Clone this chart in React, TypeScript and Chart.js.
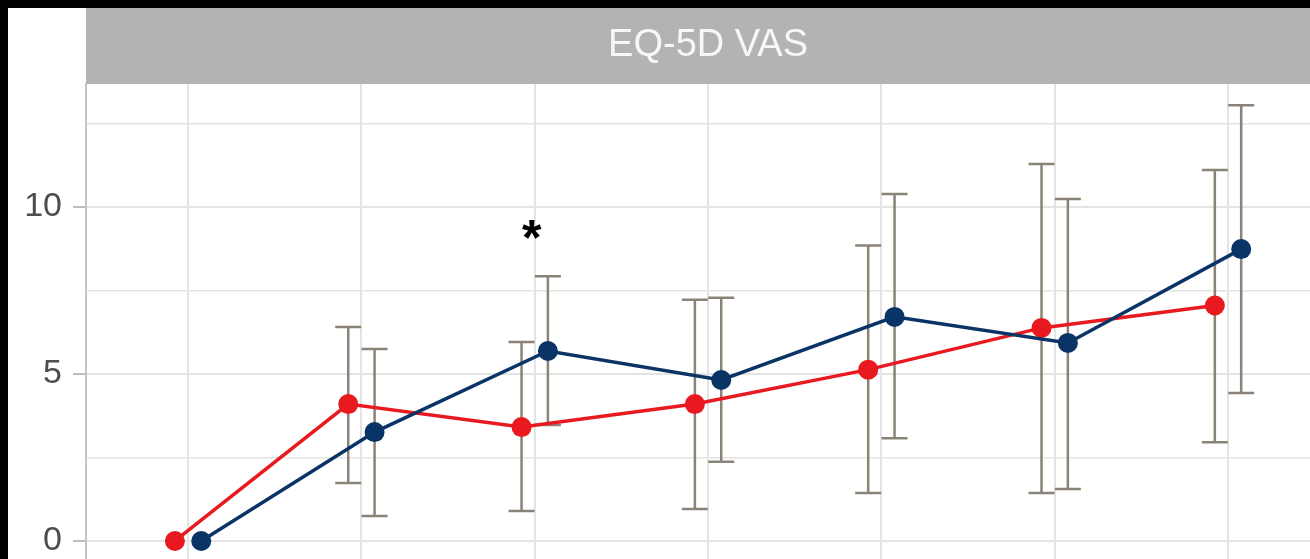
import React, { useEffect, useRef } from "react";
import { Chart, registerables } from "chart.js";

Chart.register(...registerables);

const panelTitle = "EQ-5D VAS";
const categories = [1, 2, 3, 4, 5, 6, 7];
const yTicks = [0, 2.5, 5, 7.5, 10, 12.5];
const yLabelled = [0, 5, 10];

const redMean = [0, 4.1, 3.41, 4.1, 5.13, 6.38, 7.05];
const redHi = [null, 6.41, 5.96, 7.22, 8.85, 11.29, 11.11];
const redLo = [null, 1.74, 0.9, 0.96, 1.44, 1.44, 2.96];

const blueMean = [0, 3.26, 5.69, 4.82, 6.71, 5.93, 8.74];
const blueHi = [null, 5.75, 7.93, 7.28, 10.39, 10.24, 13.05];
const blueLo = [null, 0.75, 3.47, 2.37, 3.08, 1.56, 4.43];

const significance = [{ category: 3, label: "*", y: 9.25 }];

const RED = "#E8191F";
const BLUE = "#0B3466";
const ERR = "#8A8377";
const GRID = "#E4E4E4";
const DODGE = 0.076;
const X_MIN = 0.411;
const X_MAX = 7.473;
const Y_MIN = -0.539;
const Y_MAX = 13.683;
const W = 1310;
const H = 559;
const MARGIN = 8;

export default function App() {
  const ref = useRef<HTMLCanvasElement | null>(null);

  useEffect(() => {
    document.body.style.background = "#000";
    const canvas = ref.current;
    if (!canvas) return;

    const framePlugin = {
      id: "frame",
      beforeDraw(chart: any) {
        const ctx = chart.ctx;
        ctx.save();
        ctx.fillStyle = "#000";
        ctx.fillRect(0, 0, chart.width, chart.height);
        ctx.fillStyle = "#fff";
        ctx.fillRect(MARGIN, MARGIN, chart.width - MARGIN, chart.height - MARGIN);
        ctx.restore();
      },
      beforeDatasetsDraw(chart: any) {
        const ctx = chart.ctx;
        const xs = chart.scales.x;
        const ys = chart.scales.y;
        ctx.save();
        ctx.strokeStyle = ERR;
        ctx.lineWidth = 2.5;
        chart.data.datasets.forEach((ds: any) => {
          ds.data.forEach((pt: any, i: number) => {
            const hi = ds.errHi[i];
            const lo = ds.errLo[i];
            if (hi == null || lo == null) return;
            const px = xs.getPixelForValue(pt.x);
            const pHi = ys.getPixelForValue(hi);
            const pLo = ys.getPixelForValue(lo);
            ctx.beginPath();
            ctx.moveTo(px, pHi);
            ctx.lineTo(px, pLo);
            ctx.moveTo(px - 13, pHi);
            ctx.lineTo(px + 13, pHi);
            ctx.moveTo(px - 13, pLo);
            ctx.lineTo(px + 13, pLo);
            ctx.stroke();
          });
        });
        ctx.restore();
      },
      afterDatasetsDraw(chart: any) {
        const ctx = chart.ctx;
        const xs = chart.scales.x;
        const ys = chart.scales.y;
        ctx.save();
        ctx.fillStyle = "#000";
        ctx.font = "bold 50px 'Liberation Sans', Arial, sans-serif";
        ctx.textAlign = "center";
        ctx.textBaseline = "middle";
        significance.forEach((s) => {
          const px = xs.getPixelForValue(s.category) - 3;
          const py = ys.getPixelForValue(s.y) + 9;
          ctx.fillText(s.label, px, py);
        });
        ctx.restore();
      },
      afterDraw(chart: any) {
        const ctx = chart.ctx;
        const area = chart.chartArea;
        const xs = chart.scales.x;
        ctx.save();
        ctx.fillStyle = "#B3B3B3";
        ctx.fillRect(area.left, MARGIN, chart.width - area.left, area.top - MARGIN);
        ctx.fillStyle = "#F7F7F7";
        ctx.font = "38px 'Liberation Sans', Arial, sans-serif";
        ctx.textAlign = "center";
        ctx.textBaseline = "middle";
        const cx = xs.getPixelForValue((categories[0] + categories[categories.length - 1]) / 2);
        ctx.fillText(panelTitle, cx, (area.top + MARGIN) / 2);
        ctx.restore();
      },
    };

    const mk = (mean: number[], hi: (number | null)[], lo: (number | null)[], offset: number, color: string) => ({
      data: categories.map((c, i) => ({ x: c + offset, y: mean[i] })),
      errHi: hi,
      errLo: lo,
      borderColor: color,
      backgroundColor: color,
      pointBackgroundColor: color,
      pointBorderColor: color,
      pointRadius: 10,
      pointBorderWidth: 0,
      borderWidth: 3.5,
      tension: 0,
      showLine: true,
    });

    const chart = new Chart(canvas, {
      type: "scatter",
      data: {
        datasets: [
          mk(blueMean, blueHi, blueLo, DODGE, BLUE) as any,
          mk(redMean, redHi, redLo, -DODGE, RED) as any,
        ],
      },
      options: {
        responsive: false,
        devicePixelRatio: 1,
        animation: false,
        events: [],
        layout: { autoPadding: false, padding: { top: MARGIN + 76, left: MARGIN, right: 0, bottom: 0 } },
        plugins: { legend: { display: false }, tooltip: { enabled: false } },
        scales: {
          x: {
            type: "linear",
            min: X_MIN,
            max: X_MAX,
            afterBuildTicks: (s: any) => {
              s.ticks = categories.map((v) => ({ value: v }));
            },
            afterFit: (s: any) => {
              s.height = 0;
              s.paddingLeft = 0;
              s.paddingRight = 0;
            },
            ticks: { display: false },
            grid: { color: GRID, lineWidth: 2, drawTicks: false },
            border: { display: false },
          },
          y: {
            type: "linear",
            min: Y_MIN,
            max: Y_MAX,
            afterBuildTicks: (s: any) => {
              s.ticks = yTicks.map((v) => ({ value: v }));
            },
            afterFit: (s: any) => {
              s.width = 78;
              s.paddingTop = 0;
              s.paddingBottom = 0;
            },
            ticks: {
              padding: 11,
              color: "#4D4D4D",
              font: { family: "'Liberation Sans', Arial, sans-serif", size: 34 },
              callback: (v: any) => (yLabelled.includes(Number(v)) ? String(v) : ""),
            },
            grid: {
              color: GRID,
              lineWidth: (c: any) => (c.tick && yLabelled.includes(c.tick.value) ? 2 : 1.6),
              tickLength: 13,
              tickWidth: 2,
              tickColor: (c: any) => (c.tick && yLabelled.includes(c.tick.value) ? "#BDBDBD" : "rgba(0,0,0,0)"),
            },
            border: { display: true, color: "#C4C4C4", width: 2 },
          },
        },
      },
      plugins: [framePlugin],
    });

    return () => chart.destroy();
  }, []);

  return (
    <div style={{ position: "fixed", top: 0, left: 0, width: "100vw", height: "100vh", background: "#000", overflow: "hidden" }}>
      <canvas
        ref={ref}
        width={W}
        height={H}
        style={{ display: "block", width: "100vw", height: "100vh" }}
      />
    </div>
  );
}
